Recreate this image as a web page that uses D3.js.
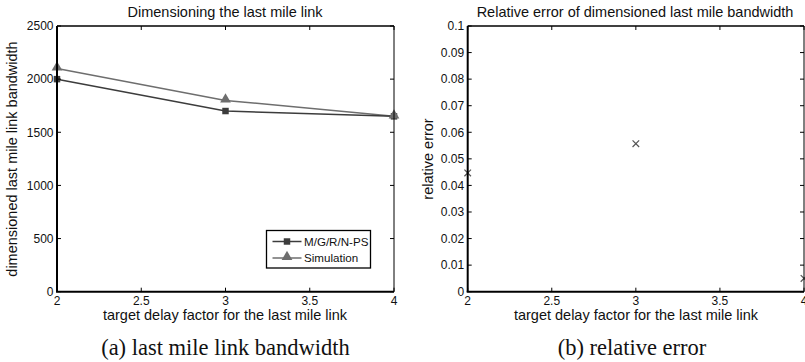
<!DOCTYPE html>
<html>
<head>
<meta charset="utf-8">
<script src="https://cdn.jsdelivr.net/npm/d3@7"></script>
<style>
  body { margin: 0; background: #fff; }
  svg { display: block; }
  text { font-family: "Liberation Sans", Arial, sans-serif; fill: #111; }
  .caption { font-family: "Liberation Serif", "Times New Roman", serif; }
</style>
</head>
<body>
<div id="container"></div>
<script>
// data
const delayFactor = [2, 3, 4]
const mgrnps = [2000, 1700, 1650]
const simulation = [2100, 1800, 1650]
const relError = [0.0447, 0.0557, 0.005]

const xTicks = [2, 2.5, 3, 3.5, 4]
const bwTicks = [0, 500, 1000, 1500, 2000, 2500]
const errTicks = [0, 0.01, 0.02, 0.03, 0.04, 0.05, 0.06, 0.07, 0.08, 0.09, 0.1]

const width = 805
const height = 362
const plotTop = 26
const plotBottom = 291.7
const labelSize = 14.5
const tickSize = 12

const svg = d3.select('#container').append('svg')
  .attr('width', width)
  .attr('height', height)

function drawFrame (g, x, y, xt, yt, yFmt) {
  const [x0, x1] = x.range()
  // ticks, inward on all four sides
  const tl = 4
  xt.forEach(t => {
    g.append('line').attr('x1', x(t)).attr('x2', x(t)).attr('y1', plotBottom).attr('y2', plotBottom - tl)
      .attr('stroke', '#000')
    g.append('line').attr('x1', x(t)).attr('x2', x(t)).attr('y1', plotTop).attr('y2', plotTop + tl)
      .attr('stroke', '#000')
    g.append('text').attr('x', x(t)).attr('y', plotBottom + 13.5)
      .attr('text-anchor', 'middle').attr('font-size', tickSize).text(t)
  })
  yt.forEach(t => {
    g.append('line').attr('x1', x0).attr('x2', x0 + tl).attr('y1', y(t)).attr('y2', y(t))
      .attr('stroke', '#000')
    g.append('line').attr('x1', x1).attr('x2', x1 - tl).attr('y1', y(t)).attr('y2', y(t))
      .attr('stroke', '#000')
    g.append('text').attr('x', x0 - 3.5).attr('y', y(t) + 4.3)
      .attr('text-anchor', 'end').attr('font-size', tickSize).text(yFmt(t))
  })
  // box: left and bottom heavier like the scanned figure
  g.append('line').attr('x1', x0).attr('x2', x1).attr('y1', plotTop).attr('y2', plotTop)
    .attr('stroke', '#000').attr('stroke-width', 1.3)
  g.append('line').attr('x1', x1).attr('x2', x1).attr('y1', plotTop).attr('y2', plotBottom)
    .attr('stroke', '#000').attr('stroke-width', 1)
  g.append('line').attr('x1', x0).attr('x2', x0).attr('y1', plotTop).attr('y2', plotBottom)
    .attr('stroke', '#000').attr('stroke-width', 2)
  g.append('line').attr('x1', x0 - 1).attr('x2', x1).attr('y1', plotBottom).attr('y2', plotBottom)
    .attr('stroke', '#000').attr('stroke-width', 2)
}

// ---------- (a) bandwidth ----------
const xa = d3.scaleLinear().domain([2, 4]).range([57, 394])
const ya = d3.scaleLinear().domain([0, 2500]).range([plotBottom, plotTop])
const ga = svg.append('g')

const line = d3.line().x((d, i) => xa(delayFactor[i])).y(d => ya(d))
ga.append('path').datum(simulation).attr('d', line)
  .attr('fill', 'none').attr('stroke', '#6e6e6e').attr('stroke-width', 1.5)
ga.append('path').datum(mgrnps).attr('d', line)
  .attr('fill', 'none').attr('stroke', '#3c3c3c').attr('stroke-width', 1.5)

const tri = d3.symbol().type(d3.symbolTriangle).size(50)
const sq = d3.symbol().type(d3.symbolSquare).size(42)

ga.selectAll('.sq').data(mgrnps).enter().append('path')
  .attr('class', 'sq')
  .attr('d', sq)
  .attr('transform', (d, i) => `translate(${xa(delayFactor[i])},${ya(d)})`)
  .attr('fill', '#3c3c3c')
ga.selectAll('.tri').data(simulation).enter().append('path')
  .attr('class', 'tri')
  .attr('d', tri)
  .attr('transform', (d, i) => `translate(${xa(delayFactor[i])},${ya(d) - 1})`)
  .attr('fill', '#6e6e6e')

drawFrame(ga, xa, ya, xTicks, bwTicks, d => d)

ga.append('text').attr('x', 225).attr('y', 17).attr('text-anchor', 'middle')
  .attr('font-size', labelSize).text('Dimensioning the last mile link')
ga.append('text').attr('transform', 'translate(17,159) rotate(-90)')
  .attr('text-anchor', 'middle').attr('font-size', labelSize)
  .text('dimensioned last mile link bandwidth')
ga.append('text').attr('x', 225).attr('y', 320).attr('text-anchor', 'middle')
  .attr('font-size', labelSize).text('target delay factor for the last mile link')
ga.append('text').attr('class', 'caption').attr('x', 225.5).attr('y', 355)
  .attr('text-anchor', 'middle').attr('font-size', 22.5).text('(a) last mile link bandwidth')

// legend
const legend = ga.append('g')
legend.append('rect').attr('x', 266.5).attr('y', 230.5).attr('width', 104).attr('height', 37.5)
  .attr('fill', '#fff').attr('stroke', '#000').attr('stroke-width', 1.3)
const legendItems = [
  { name: 'M/G/R/N-PS', color: '#3c3c3c', sym: sq },
  { name: 'Simulation', color: '#6e6e6e', sym: tri }
]
legendItems.forEach((it, i) => {
  const ly = 241.5 + i * 16.5
  legend.append('line').attr('x1', 272.5).attr('x2', 301.5).attr('y1', ly).attr('y2', ly)
    .attr('stroke', it.color).attr('stroke-width', 1.5)
  legend.append('path').attr('d', it.sym).attr('fill', it.color)
    .attr('transform', `translate(287,${ly - (i ? 1 : 0)})`)
  legend.append('text').attr('x', 304).attr('y', ly + 4.2).attr('font-size', 11.6).text(it.name)
})

// ---------- (b) relative error ----------
const xb = d3.scaleLinear().domain([2, 4]).range([467.7, 804])
const yb = d3.scaleLinear().domain([0, 0.1]).range([plotBottom, plotTop])
const gb = svg.append('g')

const cross = d3.symbol().type(d3.symbolX).size(30)
gb.selectAll('.x').data(relError).enter().append('path')
  .attr('d', cross)
  .attr('transform', (d, i) => `translate(${xb(delayFactor[i])},${yb(d)})`)
  .attr('fill', 'none').attr('stroke', '#555').attr('stroke-width', 1.2)

drawFrame(gb, xb, yb, xTicks, errTicks, d => d)

gb.append('text').attr('x', 635).attr('y', 17).attr('text-anchor', 'middle')
  .attr('font-size', labelSize).text('Relative error of dimensioned last mile bandwidth')
gb.append('text').attr('transform', 'translate(433,159) rotate(-90)')
  .attr('text-anchor', 'middle').attr('font-size', labelSize).text('relative error')
gb.append('text').attr('x', 636).attr('y', 320).attr('text-anchor', 'middle')
  .attr('font-size', labelSize).text('target delay factor for the last mile link')
gb.append('text').attr('class', 'caption').attr('x', 632).attr('y', 355)
  .attr('text-anchor', 'middle').attr('font-size', 22.5).text('(b) relative error')
</script>
</body>
</html>
